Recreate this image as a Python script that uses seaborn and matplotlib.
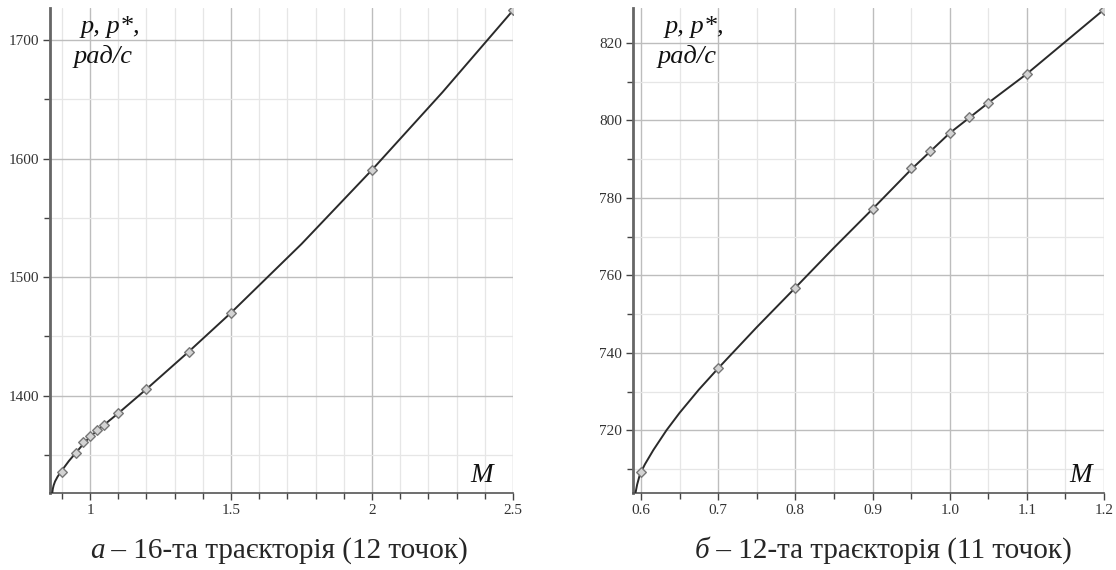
import numpy as np
import pandas as pd
import matplotlib
matplotlib.use("Agg")
import matplotlib.pyplot as plt
from matplotlib.ticker import MultipleLocator, FixedLocator, FixedFormatter
import seaborn as sns

# ---- data (left panel: trajectory 16, 12 points) ----
left_pts_M = [0.9, 0.95, 0.975, 1.0, 1.025, 1.05, 1.1, 1.2, 1.35, 1.5, 2.0, 2.5]
left_pts_p = [1336, 1352, 1360.7, 1365.7, 1370.8, 1375.6, 1385.4, 1405.9, 1437.3, 1470.2, 1590.4, 1725]
left_curve_M = [0.866, 0.868, 0.871, 0.876, 0.885, 0.9, 0.925, 0.95, 0.975, 1.0, 1.05, 1.1, 1.2,
                1.35, 1.5, 1.75, 2.0, 2.25, 2.5]
left_curve_p = [1318, 1321.5, 1324.5, 1327.8, 1331.8, 1337, 1345, 1352, 1359, 1365.5, 1375.5,
                1385.2, 1405.6, 1437.2, 1470, 1528, 1590.5, 1656, 1725]

# ---- data (right panel: trajectory 12, 11 points) ----
right_pts_M = [0.6, 0.7, 0.8, 0.9, 0.95, 0.975, 1.0, 1.025, 1.05, 1.1, 1.2]
right_pts_p = [709.2, 736.1, 756.8, 777.1, 787.6, 792.0, 796.7, 800.8, 804.5, 812.0, 828.6]
right_curve_M = [0.593, 0.595, 0.598, 0.6, 0.605, 0.616, 0.633, 0.65, 0.675, 0.7, 0.75, 0.8, 0.85,
                 0.9, 0.95, 1.0, 1.05, 1.1, 1.15, 1.2]
right_curve_p = [704, 706, 708.2, 709.2, 711.2, 714.9, 720, 724.5, 730.5, 736, 746.6, 756.8, 767.1,
                 777.1, 787.3, 796.7, 804.5, 812.0, 820.3, 828.6]

left_xticks = [1, 1.5, 2, 2.5]
left_xticklabels = ["1", "1.5", "2", "2.5"]
left_yticks = [1400, 1500, 1600, 1700]
right_xticks = [0.6, 0.7, 0.8, 0.9, 1.0, 1.1, 1.2]
right_xticklabels = ["0.6", "0.7", "0.8", "0.9", "1.0", "1.1", "1.2"]
right_yticks = [720, 740, 760, 780, 800, 820]

caption_left = ("а", " – 16-та траєкторія (12 точок)")
caption_right = ("б", " – 12-та траєкторія (11 точок)")

sns.set_theme(style="white")
plt.rcParams['font.family'] = ['Liberation Serif', 'DejaVu Serif']

W, H = 1116, 570
fig = plt.figure(figsize=(W / 100, H / 100), dpi=100)
axL = fig.add_axes([50/W, 77/H, 463/W, 485/H])
axR = fig.add_axes([633/W, 77/H, 471/W, 485/H])

def style_axes(ax, xlim, ylim, xticks, xlabels, xminor, yticks, yminor):
    ax.set_xlim(*xlim)
    ax.set_ylim(*ylim)
    ax.xaxis.set_major_locator(FixedLocator(xticks))
    ax.xaxis.set_major_formatter(FixedFormatter(xlabels))
    ax.xaxis.set_minor_locator(MultipleLocator(xminor))
    ax.yaxis.set_major_locator(FixedLocator(yticks))
    ax.yaxis.set_minor_locator(MultipleLocator(yminor))
    ax.grid(which='major', color='#bdbdbd', linewidth=1.0, zorder=0)
    ax.grid(which='minor', color='#e6e6e6', linewidth=0.9, zorder=0)
    ax.set_axisbelow(True)
    for s in ['top', 'right']:
        ax.spines[s].set_visible(False)
    ax.spines['left'].set_color('#666666')
    ax.spines['left'].set_linewidth(2.0)
    ax.spines['bottom'].set_color('#555555')
    ax.spines['bottom'].set_linewidth(1.2)
    ax.tick_params(which='both', direction='out', color='#444444', labelsize=11,
                   labelcolor='#333333', left=True, bottom=True, pad=3)
    ax.tick_params(which='major', length=5, width=1)
    ax.tick_params(which='minor', length=4, width=1)
    ax.set_xlabel("")
    ax.set_ylabel("")

def draw(ax, cM, cp, pM, pp):
    sns.lineplot(x=cM, y=cp, ax=ax, color='#2a2a2a', linewidth=1.4, sort=False, zorder=3)
    sns.scatterplot(x=pM, y=pp, ax=ax, marker='D', s=24, color='#d3d3d3',
                    edgecolor='#777777', linewidth=1.0, zorder=4)

draw(axL, left_curve_M, left_curve_p, left_pts_M, left_pts_p)
draw(axR, right_curve_M, right_curve_p, right_pts_M, right_pts_p)

style_axes(axL, (0.858, 2.5), (1318, 1727), left_xticks, left_xticklabels, 0.1,
           left_yticks, 50)
style_axes(axR, (0.5896, 1.2), (703.8, 829), right_xticks, right_xticklabels, 0.05,
           right_yticks, 10)

for ax, x1, x2, xm in [(axL, 0.065, 0.050, 0.957), (axR, 0.068, 0.053, 0.975)]:
    ax.text(x1, 0.948, "p, p*,", transform=ax.transAxes, fontsize=19, style='italic',
            ha='left', va='baseline', color='#111111')
    ax.text(x2, 0.887, "рад/с", transform=ax.transAxes, fontsize=19, style='italic',
            ha='left', va='baseline', color='#111111')
    ax.text(xm, 0.023, "M", transform=ax.transAxes, fontsize=19.5, style='italic',
            ha='right', va='baseline', color='#111111')

def centered_caption(xc_px, parts, fs=21):
    r = fig.canvas.get_renderer()
    ta = fig.text(0, 0, parts[0], fontsize=fs, style='italic', va='baseline')
    tb = fig.text(0, 0, parts[1], fontsize=fs, va='baseline')
    wa = ta.get_window_extent(r).width
    wb = tb.get_window_extent(r).width
    x0 = xc_px - (wa + wb) / 2
    y = 12 / H
    ta.set_position((x0 / W, y))
    tb.set_position(((x0 + wa) / W, y))

fig.canvas.draw()
centered_caption(279, caption_left)
centered_caption(883, caption_right)

fig.savefig("out.png", dpi=100)
